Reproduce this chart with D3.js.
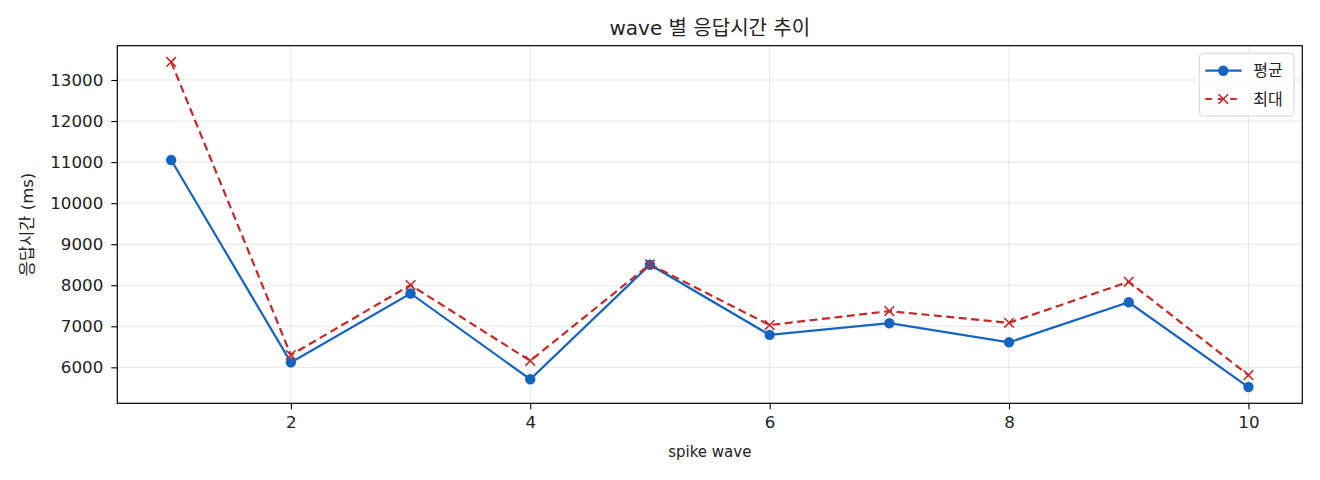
<!DOCTYPE html>
<html>
<head>
<meta charset="utf-8">
<script src="https://cdn.jsdelivr.net/npm/d3@7"></script>
<style>
  body { margin: 0; background: #fff; }
  text { font-family: "DejaVu Sans", "Noto Sans CJK KR", sans-serif; fill: #222; }
</style>
</head>
<body>
<div id="chart"></div>
<script>
const width = 1320;
const height = 480;

// wave 번호와 응답시간 (ms)
const waves = [1, 2, 3, 4, 5, 6, 7, 8, 9, 10];
const avgMs = [11050, 6120, 7800, 5710, 8500, 6790, 7075, 6610, 7585, 5520];
const maxMs = [13440, 6300, 8005, 6160, 8510, 7030, 7370, 7085, 8085, 5810];
const xTicks = [2, 4, 6, 8, 10];
const yTicks = [6000, 7000, 8000, 9000, 10000, 11000, 12000, 13000];

const margin = { top: 45.7, right: 17.7, bottom: 76.7, left: 117.3 };
const innerW = width - margin.left - margin.right;
const innerH = height - margin.top - margin.bottom;

const blue = "#1565c0";
const red = "#c62828";

const svg = d3.select("#chart").append("svg")
  .attr("width", width)
  .attr("height", height);

const g = svg.append("g")
  .attr("transform", `translate(${margin.left},${margin.top})`);

// matplotlib 식 5% 여백
const xPad = (d3.max(waves) - d3.min(waves)) * 0.05;
const allY = avgMs.concat(maxMs);
const yPad = (d3.max(allY) - d3.min(allY)) * 0.05;

const x = d3.scaleLinear()
  .domain([d3.min(waves) - xPad, d3.max(waves) + xPad])
  .range([0, innerW]);

const y = d3.scaleLinear()
  .domain([d3.min(allY) - yPad, d3.max(allY) + yPad])
  .range([innerH, 0]);

// grid
g.append("g")
  .selectAll("line")
  .data(xTicks)
  .join("line")
  .attr("x1", d => x(d)).attr("x2", d => x(d))
  .attr("y1", 0).attr("y2", innerH)
  .attr("stroke", "#b0b0b0").attr("stroke-opacity", 0.3).attr("stroke-width", 1);

g.append("g")
  .selectAll("line")
  .data(yTicks)
  .join("line")
  .attr("x1", 0).attr("x2", innerW)
  .attr("y1", d => y(d)).attr("y2", d => y(d))
  .attr("stroke", "#b0b0b0").attr("stroke-opacity", 0.3).attr("stroke-width", 1);

// axes
const xAxis = g.append("g")
  .attr("transform", `translate(0,${innerH})`)
  .call(d3.axisBottom(x).tickValues(xTicks).tickSize(6).tickPadding(7).tickFormat(d3.format("d")));

const yAxis = g.append("g")
  .call(d3.axisLeft(y).tickValues(yTicks).tickSize(6).tickPadding(8).tickFormat(d3.format("d")));

[xAxis, yAxis].forEach(a => {
  a.select(".domain").remove();
  a.selectAll(".tick line").attr("stroke", "#000").attr("stroke-width", 1.1);
  a.selectAll(".tick text")
    .style("font-family", '"DejaVu Sans", sans-serif')
    .style("font-size", "16.7px")
    .attr("fill", "#222");
});

// frame
g.append("rect")
  .attr("width", innerW).attr("height", innerH)
  .attr("fill", "none").attr("stroke", "#000").attr("stroke-width", 1.2);

// lines
const lineOf = d3.line().x((d, i) => x(waves[i])).y(d => y(d));

g.append("path")
  .datum(avgMs)
  .attr("d", lineOf)
  .attr("fill", "none")
  .attr("stroke", blue)
  .attr("stroke-width", 2.2);

g.append("path")
  .datum(maxMs)
  .attr("d", lineOf)
  .attr("fill", "none")
  .attr("stroke", red)
  .attr("stroke-width", 2.2)
  .attr("stroke-dasharray", "8,4.5");

g.append("g")
  .selectAll("circle")
  .data(avgMs)
  .join("circle")
  .attr("cx", (d, i) => x(waves[i]))
  .attr("cy", d => y(d))
  .attr("r", 5.2)
  .attr("fill", blue);

const xMark = (cx, cy, s) => `M${cx - s},${cy - s}L${cx + s},${cy + s}M${cx - s},${cy + s}L${cx + s},${cy - s}`;

g.append("g")
  .selectAll("path")
  .data(maxMs)
  .join("path")
  .attr("d", (d, i) => xMark(x(waves[i]), y(d), 4.8))
  .attr("stroke", red)
  .attr("stroke-width", 1.6)
  .attr("fill", "none");

// title and labels
svg.append("text")
  .attr("x", margin.left + innerW / 2)
  .attr("y", 35)
  .attr("text-anchor", "middle")
  .style("font-size", "20px")
  .text("wave 별 응답시간 추이");

svg.append("text")
  .attr("x", margin.left + innerW / 2)
  .attr("y", 457)
  .attr("text-anchor", "middle")
  .style("font-size", "15px")
  .text("spike wave");

svg.append("text")
  .attr("transform", `translate(33,${margin.top + innerH / 2}) rotate(-90)`)
  .attr("text-anchor", "middle")
  .style("font-size", "16.5px")
  .text("응답시간 (ms)");

// legend
const legend = svg.append("g").attr("transform", "translate(1199.3,53.3)");
legend.append("rect")
  .attr("width", 94.7).attr("height", 62.7)
  .attr("rx", 4)
  .attr("fill", "#fff").attr("fill-opacity", 0.8)
  .attr("stroke", "#d6d6d6").attr("stroke-width", 1);

const items = [
  { label: "평균", color: blue, dash: null, marker: "circle" },
  { label: "최대", color: red, dash: "8,4.5", marker: "x" }
];

items.forEach((it, i) => {
  const row = legend.append("g").attr("transform", `translate(0,${17.4 + i * 28.3})`);
  row.append("line")
    .attr("x1", 6).attr("x2", 42.4)
    .attr("stroke", it.color).attr("stroke-width", 2.2)
    .attr("stroke-dasharray", it.dash ? "6.5,6" : null);
  if (it.marker === "circle") {
    row.append("circle").attr("cx", 24).attr("cy", 0).attr("r", 5.2).attr("fill", it.color);
  } else {
    row.append("path").attr("d", xMark(24, 0, 4.8))
      .attr("stroke", it.color).attr("stroke-width", 1.6).attr("fill", "none");
  }
  row.append("text")
    .attr("x", 54).attr("y", 0).attr("dy", "0.35em")
    .style("font-size", "16px")
    .text(it.label);
});
</script>
</body>
</html>
